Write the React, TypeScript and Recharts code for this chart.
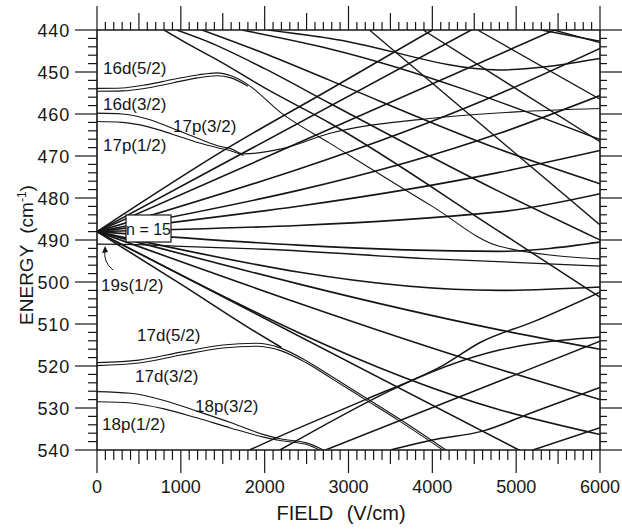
import { LineChart, Line, XAxis, YAxis } from 'recharts';

type Pt = [number, number];

// field in V/cm, energy in cm^-1 (binding energy, grows downward)

// n = 15 manifold, states moving up from 488
const fanUp: Pt[][] = [
  [[0, 488], [4800, 483.3], [6000, 479]],
  [[0, 488], [4800, 473.9], [6000, 468.7]],
  [[0, 488], [4800, 464.6], [6000, 455.6]],
  [[0, 488], [4800, 455.2], [6000, 444.4]],
  [[0, 488], [6000, 435.2]],
  [[0, 488], [6000, 423.5]],
  [[0, 488], [1550, 468.2], [2780, 454.1], [4000, 440]],
];

// n = 15 manifold, states moving down from 488
const fanDown: Pt[][] = [
  [[0, 488], [4800, 492.7], [6000, 490.5]],
  [[0, 488], [4800, 502], [6000, 501.2]],
  [[0, 488], [4800, 511.4], [6000, 516]],
  [[0, 488], [4800, 520.8], [6000, 528]],
  [[0, 488], [4800, 530.4], [6000, 536.3]],
  [[0, 488], [6000, 550]],
  [[0, 488], [1000, 500.5], [1900, 512], [2200, 515.6]],
];

// n = 16 states coming in from the top
const n16: Pt[][] = [
  [[800, 440], [1100, 443.5], [1450, 447.3], [2000, 453.8], [2780, 462.2], [4800, 488], [6000, 503.6]],
  [[950, 440], [1300, 442.6], [2000, 449.2], [2780, 457.5], [4800, 478.5], [6000, 490]],
  [[1253, 440], [2000, 445.6], [2780, 452], [4800, 468.4], [6000, 476.6]],
  [[1730, 440], [2780, 444.5], [6000, 466.1]],
  [[2040, 440], [2780, 442], [4800, 449.5], [6000, 446.8]],
  [[5300, 440], [6000, 442.7]],
];

// n = 17 states coming in from the top
const n17: Pt[][] = [
  [[3250, 440], [6000, 486.4]],
  [[3890, 440], [6000, 466.6]],
  [[4540, 440], [6000, 456.5]],
  [[5450, 440], [6000, 443]],
];

// n = 14 states coming in from the bottom
const n14: Pt[][] = [
  [[1819, 540], [2150, 537], [3200, 528], [4150, 519.6], [4570, 514.4], [5200, 509.5], [6000, 502.4]],
  [[2182, 540], [4800, 516.2], [6000, 513.1]],
  [[2726, 540], [6000, 514.1]],
  [[3500, 540], [4000, 537.6], [4600, 535.5], [5200, 531], [6000, 525.1]],
  [[5200, 540], [6000, 534.7]],
];

const d16: Pt[][] = [
  [[0, 453.9], [300, 453.8], [600, 453], [900, 451.8], [1200, 450.7], [1430, 450.2], [1600, 450.9], [1800, 453], [2200, 459.8], [2780, 467], [4000, 482], [4800, 491.5], [6000, 494.5]],
  [[0, 454.6], [300, 454.5], [600, 453.8], [900, 452.6], [1200, 451.4], [1430, 450.9], [1600, 451.4], [1800, 453.4]],
];

const p17: Pt[][] = [
  [[0, 459.8], [300, 460], [600, 461.2], [900, 463.4], [1200, 465.8], [1450, 467.6], [1600, 468.3], [1750, 469.5], [2200, 468.3], [2780, 464.6], [4000, 461], [5000, 459.5], [6000, 458.7]],
  [[0, 461.8], [300, 462], [600, 463], [900, 464.8], [1200, 466.8], [1450, 468.1], [1600, 468.8], [1750, 469.9]],
];

const s19: Pt[][] = [
  [[0, 491], [500, 491.1], [1000, 491.5], [2000, 492.2], [4000, 494.5], [6000, 496.2]],
];

const d17: Pt[][] = [
  [[0, 519.2], [500, 518.6], [1000, 516.7], [1500, 515], [1900, 514.6], [2200, 515.8], [2500, 518.8], [2800, 522.5], [3200, 527.5], [3600, 532.5], [4200, 540.5]],
  [[0, 519.9], [500, 519.3], [1000, 517.4], [1500, 515.7], [1900, 515.3], [2200, 516.4], [2500, 519.3], [2800, 523], [3200, 528], [3600, 533], [4200, 541]],
];

const p18: Pt[][] = [
  [[0, 526.1], [400, 526.5], [800, 528.2], [1200, 530.8], [1600, 533.5], [2000, 536.4], [2200, 537.4], [2500, 538.3], [2750, 540.5]],
  [[0, 528.5], [400, 528.8], [800, 530.2], [1200, 532.4], [1600, 534.8], [2000, 537], [2200, 537.8], [2500, 538.7], [2750, 541]],
];

const xLabels = [0, 1000, 2000, 3000, 4000, 5000, 6000];
const yLabels = [440, 450, 460, 470, 480, 490, 500, 510, 520, 530, 540];
const xTicks = Array.from({ length: 61 }, (_, i) => i * 100);
const yTicks = Array.from({ length: 51 }, (_, i) => 440 + i * 2);

const INK = '#161616';
const FONT = '"Liberation Sans", Arial, sans-serif';

// plot frame in page pixels
const LEFT = 97;
const RIGHT = 600;
const TOP = 30;
const BOTTOM = 450;

const groups = [
  { lines: fanUp, w: 1.6 },
  { lines: fanDown, w: 1.6 },
  { lines: n16, w: 1.5 },
  { lines: n17, w: 1.3 },
  { lines: n14, w: 1.5 },
  { lines: d16, w: 1.1 },
  { lines: p17, w: 1.1 },
  { lines: s19, w: 1.3 },
  { lines: d17, w: 1.1 },
  { lines: p18, w: 1.1 },
];

function BottomTick(props: any) {
  const { x, payload } = props;
  const v = payload.value;
  const len = v % 1000 === 0 ? 23 : v % 500 === 0 ? 14 : 10;
  return (
    <g>
      <line x1={x} y1={BOTTOM} x2={x} y2={BOTTOM + len} stroke={INK} strokeWidth={1.2} />
      {xLabels.includes(v) && (
        <text x={x} y={BOTTOM + 43} textAnchor="middle" fontSize={18} fontFamily={FONT} fill={INK}>
          {v}
        </text>
      )}
    </g>
  );
}

function TopTick(props: any) {
  const { x, payload } = props;
  const v = payload.value;
  const len = v % 1000 === 0 ? 24 : v % 500 === 0 ? 17 : 8;
  return <line x1={x} y1={TOP} x2={x} y2={TOP - len} stroke={INK} strokeWidth={1.2} />;
}

function LeftTick(props: any) {
  const { y, payload } = props;
  const v = payload.value;
  const major = yLabels.includes(v);
  return (
    <g>
      <line x1={LEFT} y1={y} x2={LEFT - (major ? 22 : 9)} y2={y} stroke={INK} strokeWidth={1.2} />
      {major && (
        <text x={LEFT - 27} y={y + 6.5} textAnchor="end" fontSize={18} fontFamily={FONT} fill={INK} letterSpacing={0.8}>
          {v}
        </text>
      )}
    </g>
  );
}

function RightTick(props: any) {
  const { y, payload } = props;
  const major = yLabels.includes(payload.value);
  return <line x1={RIGHT} y1={y} x2={RIGHT + (major ? 22 : 7)} y2={y} stroke={INK} strokeWidth={1.2} />;
}

const levelLabels = [
  { t: '16d(5/2)', x: 103, y: 74 },
  { t: '16d(3/2)', x: 103, y: 110 },
  { t: '17p(3/2)', x: 173, y: 132 },
  { t: '17p(1/2)', x: 103, y: 151 },
  { t: '19s(1/2)', x: 101, y: 291 },
  { t: '17d(5/2)', x: 137, y: 341 },
  { t: '17d(3/2)', x: 135, y: 382 },
  { t: '18p(3/2)', x: 195, y: 412 },
  { t: '18p(1/2)', x: 102, y: 430 },
];

export default function App() {
  const axisLine = { stroke: INK, strokeWidth: 1.6 };
  return (
    <div style={{ position: 'absolute', left: 0, top: 0, width: 622, height: 529, background: '#fff' }}>
      <LineChart width={622} height={529} margin={{ top: TOP - 24, right: 0, bottom: 529 - BOTTOM - 50, left: LEFT - 60 }}>
        <XAxis xAxisId="b" type="number" dataKey="f" domain={[0, 6000]} allowDataOverflow ticks={xTicks}
          interval={0} tickSize={0} tickMargin={0} tickLine={false} axisLine={axisLine} height={50} tick={<BottomTick />} />
        <XAxis xAxisId="t" orientation="top" type="number" dataKey="f" domain={[0, 6000]} allowDataOverflow ticks={xTicks}
          interval={0} tickSize={0} tickMargin={0} tickLine={false} axisLine={axisLine} height={24} tick={<TopTick />} />
        <YAxis yAxisId="l" type="number" domain={[440, 540]} reversed allowDataOverflow ticks={yTicks}
          interval={0} tickSize={0} tickMargin={0} tickLine={false} axisLine={axisLine} width={60} tick={<LeftTick />} />
        <YAxis yAxisId="r" orientation="right" type="number" domain={[440, 540]} reversed allowDataOverflow ticks={yTicks}
          interval={0} tickSize={0} tickMargin={0} tickLine={false} axisLine={axisLine} width={22} tick={<RightTick />} />
        {groups.flatMap((g, gi) =>
          g.lines.map((pts, i) => (
            <Line
              key={`${gi}-${i}`}
              xAxisId="b"
              yAxisId="l"
              data={pts.map(([f, e]) => ({ f, e }))}
              dataKey="e"
              type="monotone"
              dot={false}
              activeDot={false}
              stroke={INK}
              strokeWidth={g.w}
              isAnimationActive={false}
            />
          ))
        )}
      </LineChart>
      <svg width={622} height={529} style={{ position: 'absolute', left: 0, top: 0, pointerEvents: 'none' }}>
        {levelLabels.map((l) => (
          <text key={l.t} x={l.x} y={l.y} fontSize={17} fontFamily={FONT} fill={INK}>
            {l.t}
          </text>
        ))}
        <rect x={126} y={215} width={45} height={27} fill="#fff" stroke={INK} strokeWidth={1.2} />
        <text x={148.5} y={234.5} textAnchor="middle" fontSize={16} fontFamily={FONT} fill={INK}>
          n = 15
        </text>
        <path d="M113,270 Q103,262 105,250" fill="none" stroke={INK} strokeWidth={1} />
        <path d="M105,246 L102,253 L108,252 Z" fill={INK} />
        <text x={341} y={520} textAnchor="middle" fontSize={20} fontFamily={FONT} fill={INK} wordSpacing={8}>
          FIELD (V/cm)
        </text>
        <text transform="translate(33,255) rotate(-90)" textAnchor="middle" fontSize={19} fontFamily={FONT} fill={INK} wordSpacing={6}>
          ENERGY (cm<tspan dy={-7} fontSize={12}>-1</tspan><tspan dy={7}>)</tspan>
        </text>
      </svg>
    </div>
  );
}
